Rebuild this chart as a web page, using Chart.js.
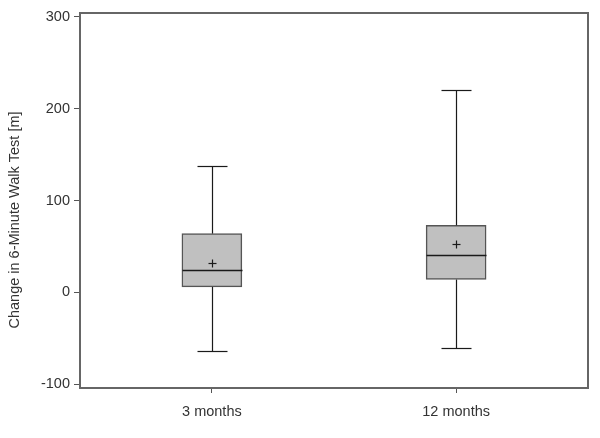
<!DOCTYPE html>
<html>
<head>
<meta charset="utf-8">
<script src="https://cdn.jsdelivr.net/npm/chart.js@4"></script>
<style>
  html, body { margin: 0; padding: 0; background: #fff; }
  #wrap { width: 600px; height: 438px; }
</style>
</head>
<body>
<div id="wrap"><canvas id="boxChart"></canvas></div>
<script>
// Box plot data
const groups = ['3 months', '12 months'];
const groupPos = [1, 2];
const whiskerLow = [-64, -60];
const q1 = [6, 14];
const median = [24, 41];
const q3 = [64, 73];
const whiskerHigh = [137, 220];
const mean = [32, 53];
const yTicks = [-100, 0, 100, 200, 300];
const yTitle = 'Change in 6-Minute Walk Test [m]';

Chart.defaults.font.family = "'Liberation Sans', Arial, sans-serif";
Chart.defaults.font.size = 14.5;
Chart.defaults.color = '#333';

// whiskers, medians, means, the plot frame and the y title
const boxExtras = {
    id: 'boxExtras',
    afterDatasetsDraw(chart) {
        const {ctx, chartArea, scales: {x, y}} = chart;
        ctx.save();
        ctx.strokeStyle = '#1a1a1a';
        ctx.lineWidth = 1.2;
        const line = (x1, y1, x2, y2) => {
            ctx.beginPath();
            ctx.moveTo(x1, y1);
            ctx.lineTo(x2, y2);
            ctx.stroke();
        };
        groupPos.forEach((p, i) => {
            const cx = Math.round(x.getPixelForValue(p)) + 0.5;
            const yHi = Math.round(y.getPixelForValue(whiskerHigh[i])) + 0.5;
            const yLo = Math.round(y.getPixelForValue(whiskerLow[i])) + 0.5;
            line(cx, y.getPixelForValue(q3[i]), cx, yHi);
            line(cx, y.getPixelForValue(q1[i]), cx, yLo);
            line(cx - 15, yHi, cx + 15, yHi);
            line(cx - 15, yLo, cx + 15, yLo);
            // median
            const yMed = Math.round(y.getPixelForValue(median[i])) + 0.5;
            ctx.lineWidth = 1.5;
            line(cx - 30, yMed, cx + 30, yMed);
            ctx.lineWidth = 1.2;
            // mean marker
            const yMean = Math.round(y.getPixelForValue(mean[i])) + 0.5;
            line(cx - 4, yMean, cx + 4, yMean);
            line(cx, yMean - 4, cx, yMean + 4);
        });
        // frame top and right
        ctx.strokeStyle = '#666';
        ctx.lineWidth = 2;
        ctx.beginPath();
        ctx.moveTo(chartArea.left, chartArea.top);
        ctx.lineTo(chartArea.right, chartArea.top);
        ctx.lineTo(chartArea.right, chartArea.bottom);
        ctx.stroke();
        // y axis title, sits a little below the middle as in the original
        ctx.translate(15, 220);
        ctx.rotate(-Math.PI / 2);
        ctx.fillStyle = '#333';
        ctx.font = "14.5px 'Liberation Sans', Arial, sans-serif";
        ctx.textAlign = 'center';
        ctx.textBaseline = 'middle';
        ctx.fillText(yTitle, 0, 0);
        ctx.restore();
    }
};

const ctx = document.getElementById('boxChart').getContext('2d');
new Chart(ctx, {
    type: 'bar',
    data: {
        datasets: [{
            label: 'IQR',
            data: groupPos.map((p, i) => ({x: p, y: [q1[i], q3[i]]})),
            backgroundColor: '#c0c0c0',
            borderColor: '#555',
            borderWidth: 1.5,
            borderSkipped: false,
            barThickness: 60
        }]
    },
    options: {
        responsive: true,
        maintainAspectRatio: false,
        animation: false,
        layout: { padding: { top: 13, right: 12, left: 0, bottom: 0 } },
        plugins: {
            legend: { display: false },
            tooltip: { enabled: false }
        },
        scales: {
            x: {
                type: 'linear',
                min: 0.46,
                max: 2.54,
                offset: false,
                afterBuildTicks: (scale) => { scale.ticks = groupPos.map(v => ({value: v})); },
                afterFit: (scale) => { scale.height = 50; },
                ticks: {
                    callback: (v) => groups[groupPos.indexOf(v)],
                    padding: 10,
                    maxRotation: 0
                },
                grid: { offset: false, drawOnChartArea: false, tickLength: 5, color: '#555' },
                border: { display: true, color: '#666', width: 2 }
            },
            y: {
                min: -104,
                max: 304,
                afterBuildTicks: (scale) => { scale.ticks = yTicks.map(v => ({value: v})); },
                afterFit: (scale) => { scale.width = 80; },
                ticks: { padding: 4 },
                grid: { drawOnChartArea: false, tickLength: 6, color: '#555' },
                border: { display: true, color: '#666', width: 2 }
            }
        }
    },
    plugins: [boxExtras]
});
</script>
</body>
</html>
